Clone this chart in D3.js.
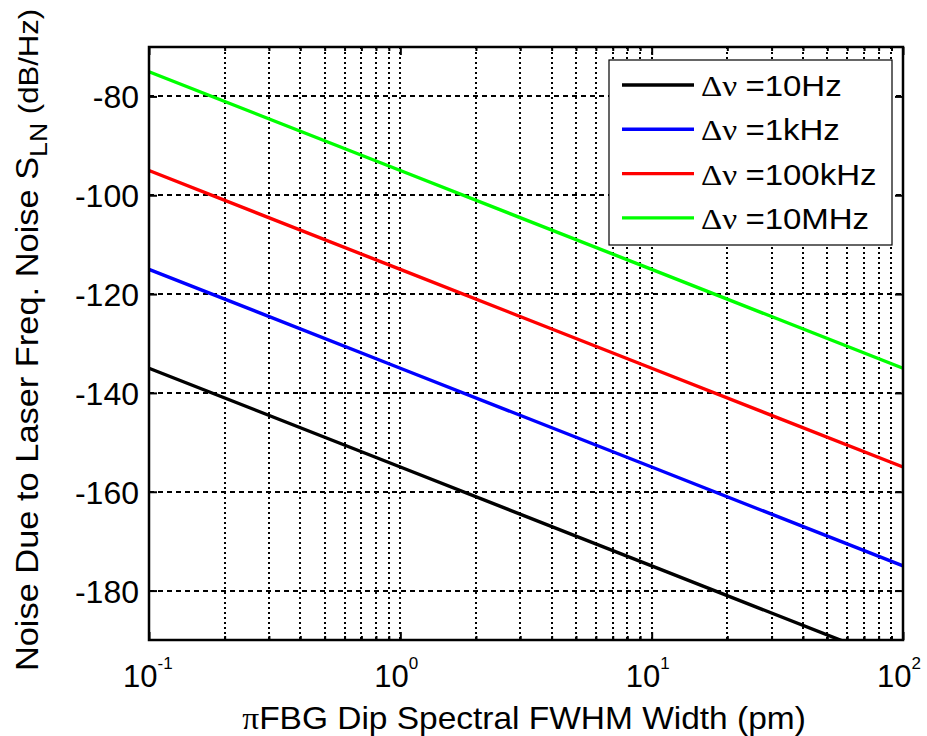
<!DOCTYPE html>
<html>
<head>
<meta charset="utf-8">
<script src="https://cdn.jsdelivr.net/npm/d3@7"></script>
<style>
  html, body { margin: 0; padding: 0; background: #fff; }
  svg { display: block; }
  text { font-family: Arial, "Liberation Sans", sans-serif; fill: #000; }
</style>
</head>
<body>
<svg id="chart" width="927" height="736"></svg>
<script>
// FWHM widths (pm) at which each curve is evaluated
const widths = [0.1, 1, 10, 100];
// Noise due to laser frequency noise (dB/Hz) for each linewidth
const noise10Hz   = [-135, -155, -175, -195];
const noise1kHz   = [-115, -135, -155, -175];
const noise100kHz = [-95, -115, -135, -155];
const noise10MHz  = [-75, -95, -115, -135];

const seriesLabels = ["=10Hz", "=1kHz", "=100kHz", "=10MHz"];
const seriesColors = ["#000000", "#0000ff", "#ff0000", "#00ff00"];
const seriesValues = [noise10Hz, noise1kHz, noise100kHz, noise10MHz];

const yTicks = [-180, -160, -140, -120, -100, -80];
const xTickExponents = [-1, 0, 1, 2];

const svg = d3.select("#chart");
const L = 149, R = 903, T = 47, B = 640;

const x = d3.scaleLog().domain([0.1, 100]).range([L, R]);
const y = d3.scaleLinear().domain([-190, -70]).range([B, T]);

svg.append("defs").append("clipPath").attr("id", "plotClip")
  .append("rect").attr("x", L).attr("y", T).attr("width", R - L).attr("height", B - T);

// minor + major log positions
const logTicks = [];
for (let e = -1; e < 2; e++) {
  for (let m = 1; m <= 9; m++) logTicks.push(m * Math.pow(10, e));
}
logTicks.push(100);

const grid = svg.append("g");
// vertical dotted grid
grid.selectAll("line.vx").data(logTicks.filter(v => v > 0.1 && v < 100)).enter()
  .append("line")
  .attr("x1", d => Math.round(x(d))).attr("x2", d => Math.round(x(d)))
  .attr("y1", T).attr("y2", B)
  .attr("stroke", "#000").attr("stroke-width", 2)
  .attr("stroke-dasharray", "2,3");
// horizontal dashed grid
grid.selectAll("line.hy").data(yTicks).enter()
  .append("line")
  .attr("x1", L).attr("x2", R)
  .attr("y1", d => Math.round(y(d))).attr("y2", d => Math.round(y(d)))
  .attr("stroke", "#000").attr("stroke-width", 2)
  .attr("stroke-dasharray", "5,4");

// data curves
const line = d3.line().x((d, i) => x(widths[i])).y(d => y(d));
svg.append("g").attr("clip-path", "url(#plotClip)")
  .selectAll("path").data(seriesValues).enter()
  .append("path")
  .attr("d", d => line(d))
  .attr("fill", "none")
  .attr("stroke", (d, i) => seriesColors[i])
  .attr("stroke-width", 3.4);

// axes with inward ticks on all four sides
const axes = svg.append("g");
const yLeft = d3.axisLeft(y).tickValues(yTicks).tickSize(-8).tickPadding(10).tickFormat(d3.format("d"));
const gl = axes.append("g").attr("transform", `translate(${L},0)`).call(yLeft);
gl.selectAll("text").style("font-size", "32px").attr("dy", "0.36em").text(d => "-" + Math.abs(d));
const yRight = d3.axisRight(y).tickValues(yTicks).tickSize(-8).tickFormat("");
axes.append("g").attr("transform", `translate(${R},0)`).call(yRight);

const majors = xTickExponents.map(e => Math.pow(10, e));
const minors = logTicks.filter(v => !majors.some(m => Math.abs(m - v) < 1e-9));
const xBottom = d3.axisBottom(x).tickValues(majors).tickSize(-8).tickFormat("");
axes.append("g").attr("transform", `translate(0,${B})`).call(xBottom);
const xBottomMinor = d3.axisBottom(x).tickValues(minors).tickSize(-4).tickFormat("");
axes.append("g").attr("transform", `translate(0,${B})`).call(xBottomMinor);
const xTop = d3.axisTop(x).tickValues(majors).tickSize(-8).tickFormat("");
axes.append("g").attr("transform", `translate(0,${T})`).call(xTop);
const xTopMinor = d3.axisTop(x).tickValues(minors).tickSize(-4).tickFormat("");
axes.append("g").attr("transform", `translate(0,${T})`).call(xTopMinor);

axes.selectAll(".domain").remove();
axes.selectAll(".tick line").attr("stroke", "#000").attr("stroke-width", 2);

// frame
svg.append("rect").attr("x", L).attr("y", T).attr("width", R - L).attr("height", B - T)
  .attr("fill", "none").attr("stroke", "#000").attr("stroke-width", 2.5);

// x tick labels: 10^e
const xl = svg.append("g");
xTickExponents.forEach(e => {
  const t = xl.append("text")
    .attr("x", x(Math.pow(10, e)) - 26)
    .attr("y", B + 47)
    .attr("text-anchor", "start")
    .style("font-size", "31px");
  t.append("tspan").text("10");
  t.append("tspan").attr("dy", -18).style("font-size", "17px").text(String(e));
});

// axis titles
const xt = svg.append("text")
  .attr("transform", `translate(${(L + R) / 2 - 2},729) scale(1.08,1)`)
  .attr("text-anchor", "middle")
  .style("font-size", "31px");
xt.append("tspan").style("font-family", "'Liberation Serif', serif").text("\u03c0");
xt.append("tspan").text("FBG Dip Spectral FWHM Width (pm)");

const yt = svg.append("text")
  .attr("transform", `translate(38,340) rotate(-90) scale(1.11,1)`)
  .attr("text-anchor", "middle")
  .style("font-size", "31px");
yt.append("tspan").text("Noise Due to Laser Freq. Noise S");
yt.append("tspan").attr("dy", 9).style("font-size", "24px").text("LN");
yt.append("tspan").attr("dy", -9).style("font-size", "28px").text(" (dB/Hz)");

// legend
const lg = svg.append("g");
lg.append("rect").attr("x", 609).attr("y", 60).attr("width", 283).attr("height", 185)
  .attr("fill", "#fff").attr("stroke", "#000").attr("stroke-width", 1.2);
seriesLabels.forEach((name, i) => {
  const yy = 85 + i * 44.3;
  lg.append("line").attr("x1", 622).attr("x2", 694).attr("y1", yy).attr("y2", yy)
    .attr("stroke", seriesColors[i]).attr("stroke-width", 3.4);
  const t = lg.append("text").attr("transform", `translate(701,${yy + 11}) scale(1.1,1)`)
    .style("font-size", "30px");
  t.append("tspan").style("font-family", "'Liberation Serif', serif").text("\u0394\u03bd ");
  t.append("tspan").text(name);
});
</script>
</body>
</html>
